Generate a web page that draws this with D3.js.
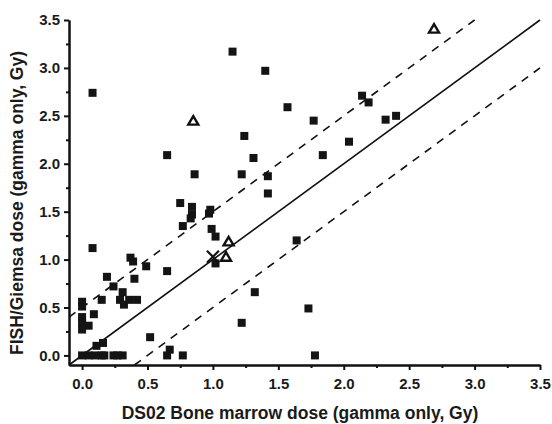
<!DOCTYPE html>
<html>
<head>
<meta charset="utf-8">
<script src="https://cdn.jsdelivr.net/npm/d3@7"></script>
<style>
  body { margin: 0; background: #fff; }
  text { font-family: "Liberation Sans", Arial, sans-serif; font-weight: bold; }
</style>
</head>
<body>
<script>
// chart size
const width = 552,
  height = 424;

// data (Gy)
const squareX = [0.08, 1.15, 1.40, 1.57, 1.77, 1.24, 2.14, 2.19, 2.04, 2.32, 2.40,
  1.84, 1.31, 0.86, 1.22, 1.42, 1.42, 0.65, 0.75, 0.77, 0.84, 0.84, 0.83,
  0.98, 0.97, 0.99, 1.02, 1.02, 1.64, 1.32, 1.22, 1.73, 1.78,
  0.08, 0.37, 0.39, 0.49, 0.65, 0.19, 0.40, 0.24, 0.31, 0.15, 0.29, 0.32,
  0.36, 0.42, 0.00, 0.00, 0.09, 0.00, 0.00, 0.05, 0.00, 0.52, 0.16, 0.11,
  0.67, 0.65, 0.77, 0.00, 0.05, 0.10, 0.15, 0.17, 0.24, 0.27, 0.31];
const squareY = [2.74, 3.17, 2.97, 2.59, 2.45, 2.29, 2.71, 2.64, 2.23, 2.46, 2.50,
  2.09, 2.06, 1.89, 1.89, 1.87, 1.69, 2.09, 1.59, 1.35, 1.55, 1.47, 1.43,
  1.52, 1.48, 1.32, 1.24, 0.96, 1.20, 0.66, 0.34, 0.49, 0.00,
  1.12, 1.02, 0.98, 0.93, 0.88, 0.82, 0.80, 0.72, 0.66, 0.58, 0.58, 0.53,
  0.58, 0.58, 0.56, 0.51, 0.43, 0.40, 0.34, 0.31, 0.27, 0.19, 0.13, 0.10,
  0.06, 0.00, 0.00, 0.00, 0.00, 0.00, 0.00, 0.00, 0.00, 0.00, 0.00];
const triangleX = [0.85, 2.69, 1.12, 1.10];
const triangleY = [2.45, 3.41, 1.19, 1.03];
const crossX = [1.00];
const crossY = [1.03];

// reference lines: y = x and y = x +/- 0.5
const lineStart = [-0.1, -0.1, 0.4];
const lineEnd = [3.5, 3.0, 3.5];
const lineOffset = [0, 0.5, -0.5];

const majorTicks = [0, 0.5, 1.0, 1.5, 2.0, 2.5, 3.0, 3.5];
const minorTicks = [0.25, 0.75, 1.25, 1.75, 2.25, 2.75, 3.25];

const xScale = d3.scaleLinear().domain([-0.1, 3.5]).range([69, 540]);
const yScale = d3.scaleLinear().domain([-0.1, 3.5]).range([365, 20]);

const svg = d3
  .select("body")
  .append("svg")
  .attr("width", width)
  .attr("height", height);

// reference lines
svg
  .selectAll(".ref")
  .data(lineStart)
  .enter()
  .append("line")
  .attr("class", "ref")
  .attr("x1", (d) => xScale(d))
  .attr("y1", (d, i) => yScale(d + lineOffset[i]))
  .attr("x2", (d, i) => xScale(lineEnd[i]))
  .attr("y2", (d, i) => yScale(lineEnd[i] + lineOffset[i]))
  .attr("stroke", "#111")
  .attr("stroke-width", 1.6)
  .attr("stroke-dasharray", (d, i) => (i === 0 ? null : "8,7"));

// squares
const sq = 8;
svg
  .selectAll(".sq")
  .data(squareX)
  .enter()
  .append("rect")
  .attr("class", "sq")
  .attr("x", (d) => xScale(d) - sq / 2)
  .attr("y", (d, i) => yScale(squareY[i]) - sq / 2)
  .attr("width", sq)
  .attr("height", sq)
  .attr("fill", "#141414");

// open triangles
svg
  .selectAll(".tri")
  .data(triangleX)
  .enter()
  .append("path")
  .attr("class", "tri")
  .attr("transform", (d, i) => `translate(${xScale(d)},${yScale(triangleY[i])})`)
  .attr("d", "M0,-4.5L5,4L-5,4Z")
  .attr("fill", "none")
  .attr("stroke", "#111")
  .attr("stroke-width", 2.4)
  .attr("stroke-linejoin", "miter");

// cross
svg
  .selectAll(".cross")
  .data(crossX)
  .enter()
  .append("path")
  .attr("class", "cross")
  .attr("transform", (d, i) => `translate(${xScale(d)},${yScale(crossY[i])})`)
  .attr("d", "M-6,-6L6,6M-6,6L6,-6")
  .attr("stroke", "#111")
  .attr("stroke-width", 2.2);

// axes
const fmt = d3.format(".1f");
const xAxis = d3.axisBottom(xScale).tickValues(majorTicks).tickFormat(fmt)
  .tickSize(5).tickSizeOuter(0).tickPadding(8);
const xMinor = d3.axisBottom(xScale).tickValues(minorTicks).tickFormat("")
  .tickSize(3).tickSizeOuter(0);
const yAxis = d3.axisLeft(yScale).tickValues(majorTicks).tickFormat(fmt)
  .tickSize(5).tickSizeOuter(0).tickPadding(4);
const yMinor = d3.axisLeft(yScale).tickValues(minorTicks).tickFormat("")
  .tickSize(3).tickSizeOuter(0);

svg.append("g").attr("transform", "translate(0,365)").call(xAxis);
svg.append("g").attr("transform", "translate(0,365)").call(xMinor);
svg.append("g").attr("transform", "translate(69,0)").call(yAxis);
svg.append("g").attr("transform", "translate(69,0)").call(yMinor);

svg.selectAll(".domain").attr("stroke", "#111").attr("stroke-width", 2);
svg.selectAll(".tick line").attr("stroke", "#111").attr("stroke-width", 2);
svg.selectAll(".tick text")
  .attr("font-size", 15)
  .attr("font-family", "Liberation Sans, Arial, sans-serif")
  .attr("font-weight", "bold")
  .attr("fill", "#1a1a1a");

// axis titles
svg
  .append("text")
  .attr("x", 300)
  .attr("y", 419)
  .attr("text-anchor", "middle")
  .attr("font-size", 17.5)
  .attr("fill", "#1a1a1a")
  .text("DS02 Bone marrow dose (gamma only, Gy)");

svg
  .append("text")
  .attr("transform", "translate(23,203) rotate(-90)")
  .attr("text-anchor", "middle")
  .attr("font-size", 17.5)
  .attr("fill", "#1a1a1a")
  .text("FISH/Giemsa dose (gamma only, Gy)");
</script>
</body>
</html>
